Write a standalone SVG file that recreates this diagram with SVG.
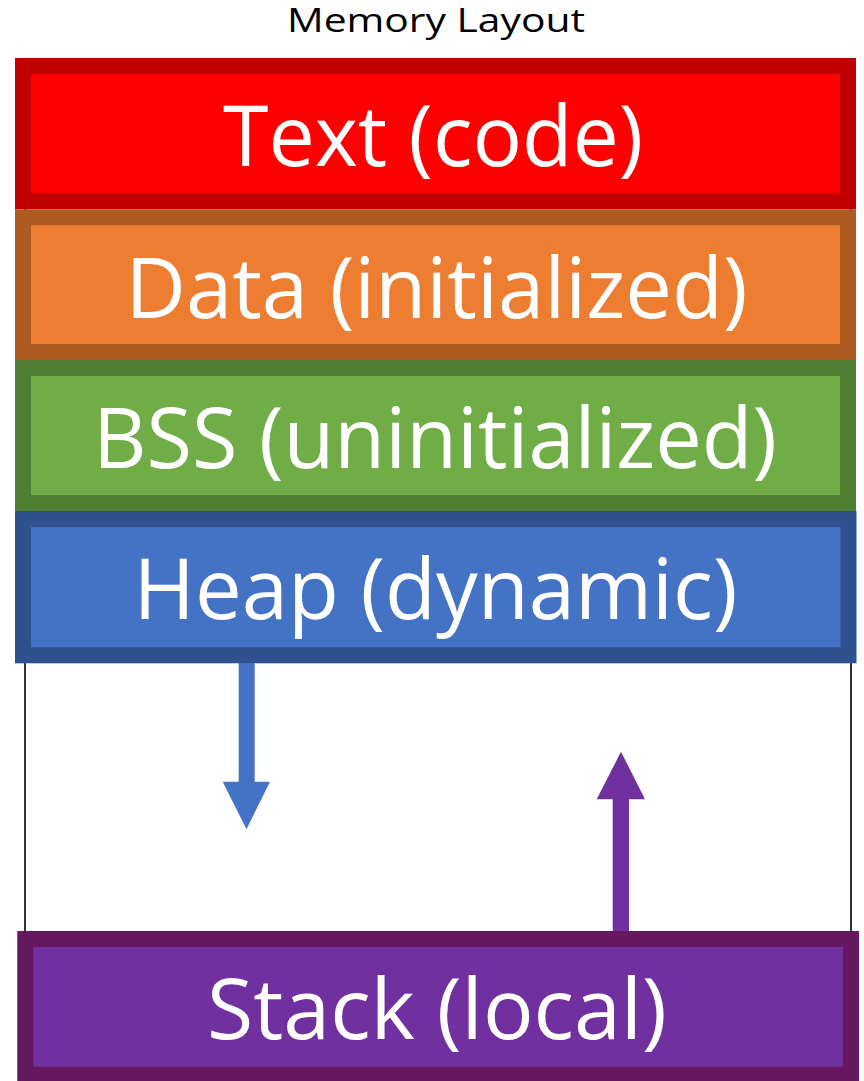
<svg xmlns="http://www.w3.org/2000/svg" width="864" height="1081" viewBox="0 0 864 1081">
  <style>
    .seg { stroke-width: 16; }
    .lbl { font-family: "Open Sans", "Liberation Sans", sans-serif; font-size: 84px; fill: #FFFFFF; text-anchor: middle; }
    .title { font-family: "Open Sans", "Liberation Sans", sans-serif; font-size: 32px; fill: #000000; text-anchor: middle; }
  </style>
  <rect width="864" height="1081" fill="#FFFFFF"/>
  <text class="title" x="436" y="32" textLength="298" lengthAdjust="spacingAndGlyphs">Memory Layout</text>
  <rect id="frame" x="25" y="120" width="826" height="880" fill="none" stroke="#000000" stroke-width="1.6"/>
  <g id="text-seg">
    <rect class="seg" x="23" y="66" width="825" height="135.3" fill="#FF0000" stroke="#C00000"/>
    <text class="lbl" x="433" y="166" textLength="420" lengthAdjust="spacingAndGlyphs">Text (code)</text>
  </g>
  <g id="data-seg">
    <rect class="seg" x="23" y="217.3" width="825" height="134.7" fill="#ED7D31" stroke="#AE5A21"/>
    <text class="lbl" x="436.5" y="318" textLength="622" lengthAdjust="spacingAndGlyphs">Data (initialized)</text>
  </g>
  <g id="bss-seg">
    <rect class="seg" x="23" y="368" width="825" height="135" fill="#70AD47" stroke="#507E32"/>
    <text class="lbl" x="435" y="468" textLength="684" lengthAdjust="spacingAndGlyphs">BSS (uninitialized)</text>
  </g>
  <g id="heap-seg">
    <rect class="seg" x="23" y="519" width="825.5" height="136.3" fill="#4472C4" stroke="#2F528F"/>
    <text class="lbl" x="435.5" y="619" textLength="604" lengthAdjust="spacingAndGlyphs">Heap (dynamic)</text>
  </g>
  <g id="stack-seg">
    <rect class="seg" x="25.3" y="939" width="825.7" height="135.7" fill="#7030A0" stroke="#651860"/>
    <text class="lbl" x="437" y="1039" textLength="460" lengthAdjust="spacingAndGlyphs">Stack (local)</text>
  </g>
  <g id="connectors">
    <polygon id="heap-grow" fill="#4472C4" points="238.7,663 254.7,663 254.7,781.7 270,781.7 246.5,829.3 222.7,781.7 238.7,781.7"/>
    <polygon id="stack-grow" fill="#7030A0" points="612.7,931 629,931 629,799.3 645,799.3 621,751.7 596.7,799.3 612.7,799.3"/>
  </g>
</svg>
